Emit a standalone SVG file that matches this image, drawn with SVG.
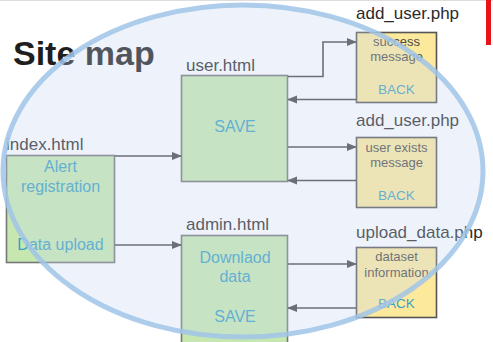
<svg xmlns="http://www.w3.org/2000/svg" width="493" height="342" viewBox="0 0 493 342">
  <defs>
    <marker id="arrow" viewBox="0 0 10 10" refX="9" refY="5" markerWidth="10" markerHeight="10" markerUnits="userSpaceOnUse" orient="auto">
      <path d="M0,1 L10,5 L0,9 Z" fill="#444"/>
    </marker>
    <style>
      .page { fill: #c6e8b0; stroke: #767676; stroke-width: 1.6; }
      .php { fill: #fde99c; stroke: #555; stroke-width: 1.6; }
      .label { font-family: "Liberation Sans", Arial, sans-serif; font-size: 17px; fill: #2a2a2a; }
      .inner { font-family: "Liberation Sans", Arial, sans-serif; font-size: 16px; fill: #3a9fc4; text-anchor: middle; }
      .msg { font-family: "Liberation Sans", Arial, sans-serif; font-size: 13px; fill: #4a4a4a; text-anchor: middle; }
      .back { font-family: "Liberation Sans", Arial, sans-serif; font-size: 13.5px; fill: #3a9fc4; text-anchor: middle; }
      .link { fill: none; stroke: #444; stroke-width: 1.6; marker-end: url(#arrow); }
    </style>
  </defs>

  <rect x="0" y="0" width="493" height="342" fill="#ffffff"/>
  <line x1="0" y1="0.5" x2="493" y2="0.5" stroke="#dddddd" stroke-width="1"/>
  <rect x="486" y="-4" width="5" height="49" fill="#e8141a"/>

  <text x="13" y="65" font-family="Liberation Sans, Arial, sans-serif" font-size="34" font-weight="bold" fill="#1e1e1e">Site map</text>

  <g id="index">
    <text class="label" x="6" y="150">index.html</text>
    <rect class="page" x="6.5" y="155.5" width="108" height="107"/>
    <text class="inner" x="60.5" y="172">Alert</text>
    <text class="inner" x="60.5" y="192">registration</text>
    <text class="inner" x="60.5" y="250">Data upload</text>
  </g>

  <g id="user">
    <text class="label" x="186" y="71">user.html</text>
    <rect class="page" x="181.5" y="75.5" width="106" height="106"/>
    <text class="inner" x="235" y="132">SAVE</text>
  </g>

  <g id="admin">
    <text class="label" x="186" y="230">admin.html</text>
    <rect class="page" x="181.5" y="235.5" width="106" height="112"/>
    <text class="inner" x="235" y="263">Downlaod</text>
    <text class="inner" x="235" y="282">data</text>
    <text class="inner" x="235" y="322">SAVE</text>
  </g>

  <g id="add-user-success">
    <text class="label" x="356" y="19">add_user.php</text>
    <rect class="php" x="356.5" y="32.5" width="80" height="70"/>
    <text class="msg" x="396.5" y="46">success</text>
    <text class="msg" x="396.5" y="61">message</text>
    <text class="back" x="396.5" y="94">BACK</text>
  </g>

  <g id="add-user-exists">
    <text class="label" x="356" y="126">add_user.php</text>
    <rect class="php" x="356.5" y="137.5" width="80" height="70"/>
    <text class="msg" x="396.5" y="152">user exists</text>
    <text class="msg" x="396.5" y="167">message</text>
    <text class="back" x="396.5" y="200">BACK</text>
  </g>

  <g id="upload-data">
    <text class="label" x="356" y="238">upload_data.php</text>
    <rect class="php" x="356.5" y="247.5" width="80" height="70"/>
    <text class="msg" x="396.5" y="261">dataset</text>
    <text class="msg" x="396.5" y="277">information</text>
    <text class="back" x="396.5" y="308">BACK</text>
  </g>

  <g id="connectors">
    <path class="link" d="M115,156 L181,156"/>
    <path class="link" d="M115,245 L181,245"/>
    <path class="link" d="M288,76.5 L323,76.5 L323,42 L356,42"/>
    <path class="link" d="M356,99.5 L288,99.5"/>
    <path class="link" d="M288,147 L356,147"/>
    <path class="link" d="M356,180.5 L288,180.5"/>
    <path class="link" d="M288,264 L356,264"/>
    <path class="link" d="M356,308 L288,308"/>
  </g>

  <!-- translucent highlight ring laid over the map -->
  <ellipse cx="243" cy="171" rx="240" ry="166" fill="rgb(198,216,242)" fill-opacity="0.3" stroke="rgb(160,196,232)" stroke-opacity="0.85" stroke-width="5"/>
</svg>
